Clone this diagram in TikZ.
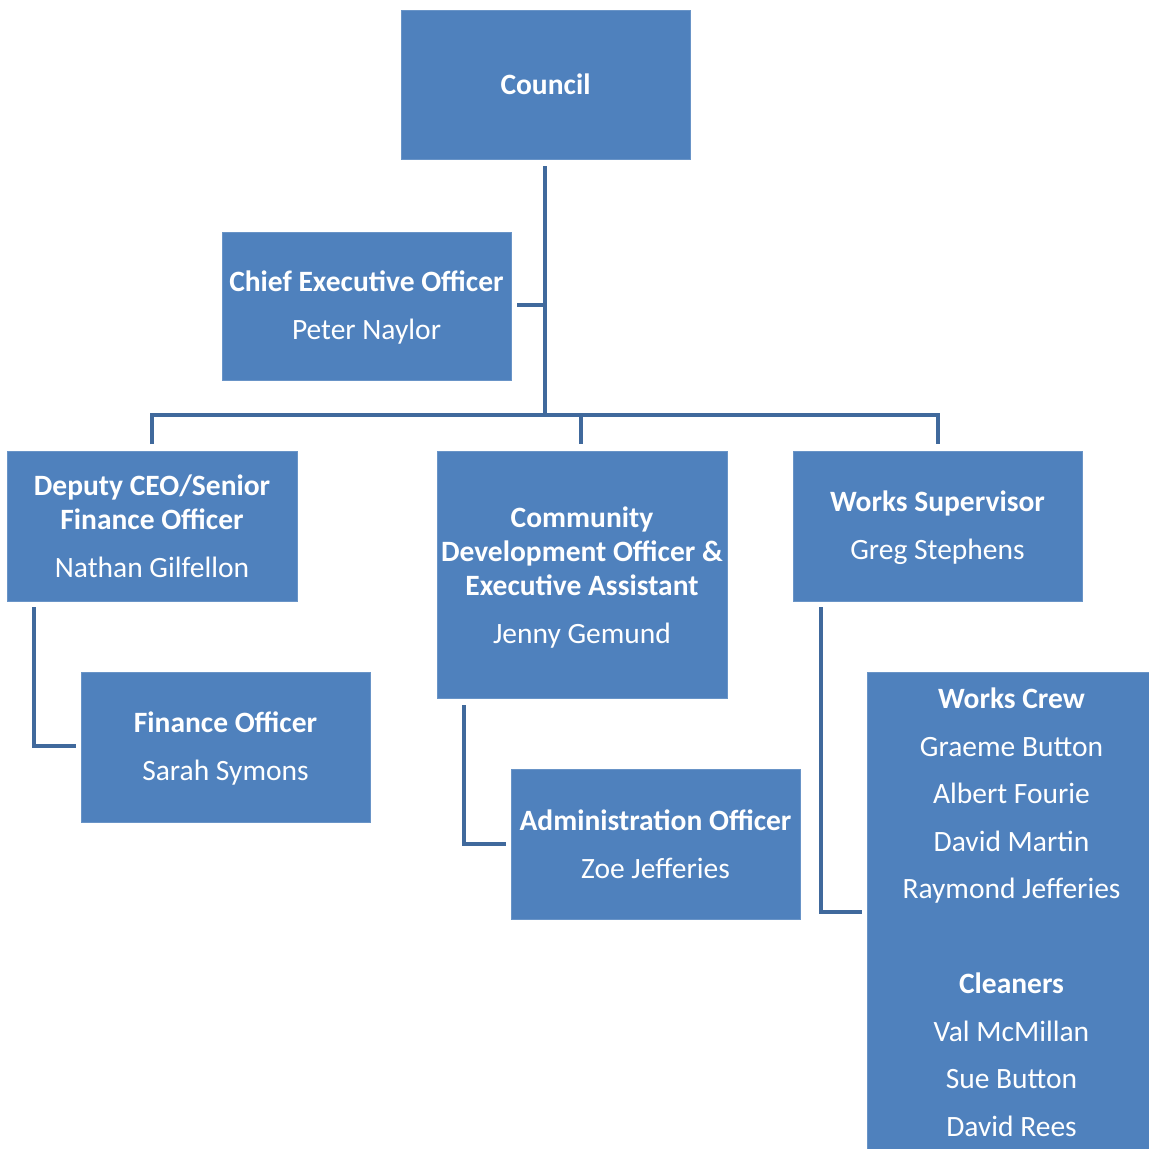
\documentclass[tikz,border=0pt]{standalone}
\usepackage{fontspec}
\setmainfont{Carlito}
\definecolor{boxblue}{HTML}{4F81BD}
\definecolor{lineblue}{HTML}{40699C}
\begin{document}
\begin{tikzpicture}[x=1pt,y=-1pt,
  box/.style={fill=boxblue,draw=boxblue!85!white,line width=0.8pt,inner sep=0pt},
  lbl/.style={text=white,align=center,font=\fontsize{29.5}{34}\selectfont,inner sep=0pt},
  conn/.style={draw=lineblue,line width=4.5pt,line cap=butt,line join=miter}]
\useasboundingbox (0,0) rectangle (1149,1149);
% boxes
\node[box,minimum width=289pt,minimum height=149pt] (council) at (545.5,84.5) {};
\node[lbl] (councilt) at (council) {\textbf{Council}};
\node[box,minimum width=289pt,minimum height=148pt] (ceo) at (366.5,306) {};
\node[lbl] (ceot) at ([yshift=-1pt]ceo.center) {\textbf{Chief Executive Officer}\\[14pt]Peter Naylor};
\node[box,minimum width=290pt,minimum height=150pt] (dep) at (152,526) {};
\node[lbl] (dept) at (dep) {\textbf{Deputy CEO/Senior}\\\textbf{Finance Officer}\\[14pt]Nathan Gilfellon};
\node[box,minimum width=290pt,minimum height=247pt] (cdo) at (582,574.5) {};
\node[lbl] (cdot) at ([yshift=-3pt]cdo.center) {\textbf{Community}\\\textbf{Development Officer \&}\\\textbf{Executive Assistant}\\[14pt]Jenny Gemund};
\node[box,minimum width=289pt,minimum height=150pt] (ws) at (937.5,526) {};
\node[lbl] (wst) at ([yshift=-2pt]ws.center) {\textbf{Works Supervisor}\\[14pt]Greg Stephens};
\node[box,minimum width=289pt,minimum height=150pt] (fo) at (225.5,747) {};
\node[lbl] (fot) at ([yshift=-1.5pt]fo.center) {\textbf{Finance Officer}\\[14pt]Sarah Symons};
\node[box,minimum width=289pt,minimum height=150pt] (ao) at (655.5,844) {};
\node[lbl] (aot) at (ao) {\textbf{Administration Officer}\\[14pt]Zoe Jefferies};
\node[box,minimum width=289pt,minimum height=530pt] (wc) at (1011.5,937) {};
\node[lbl,anchor=north] (wct) at (1011.5,688) {\textbf{Works Crew}\\[13.5pt]Graeme Button\\[13.5pt]Albert Fourie\\[13.5pt]David Martin\\[13.5pt]Raymond Jefferies\\[13.5pt]\mbox{}\\[13.5pt]\textbf{Cleaners}\\[13.5pt]Val McMillan\\[13.5pt]Sue Button\\[13.5pt]David Rees};
% connector coordinates
\coordinate (c1) at (545,166);
\coordinate (c2) at (545,415);
\coordinate (ceoj) at (545,305);
\coordinate (ceoe) at (517,305);
\coordinate (bl) at (152,415);
\coordinate (bm) at (581,415);
\coordinate (br) at (938,415);
\coordinate (dl) at (152,444);
\coordinate (dm) at (581,444);
\coordinate (dr) at (938,444);
\coordinate (f1) at (34,607);
\coordinate (f2) at (34,746);
\coordinate (f3) at (76,746);
\coordinate (a1) at (464,705);
\coordinate (a2) at (464,844);
\coordinate (a3) at (506,844);
\coordinate (w1) at (821,607);
\coordinate (w2) at (821,912);
\coordinate (w3) at (862,912);
% connectors
\draw[conn] (c1) -- (c2);
\draw[conn] (ceoe) -- (ceoj);
\draw[conn] (dl) -- (bl) -- (br) -- (dr);
\draw[conn] (bm) -- (dm);
\draw[conn] (f1) -- (f2) -- (f3);
\draw[conn] (a1) -- (a2) -- (a3);
\draw[conn] (w1) -- (w2) -- (w3);
\end{tikzpicture}
\end{document}
